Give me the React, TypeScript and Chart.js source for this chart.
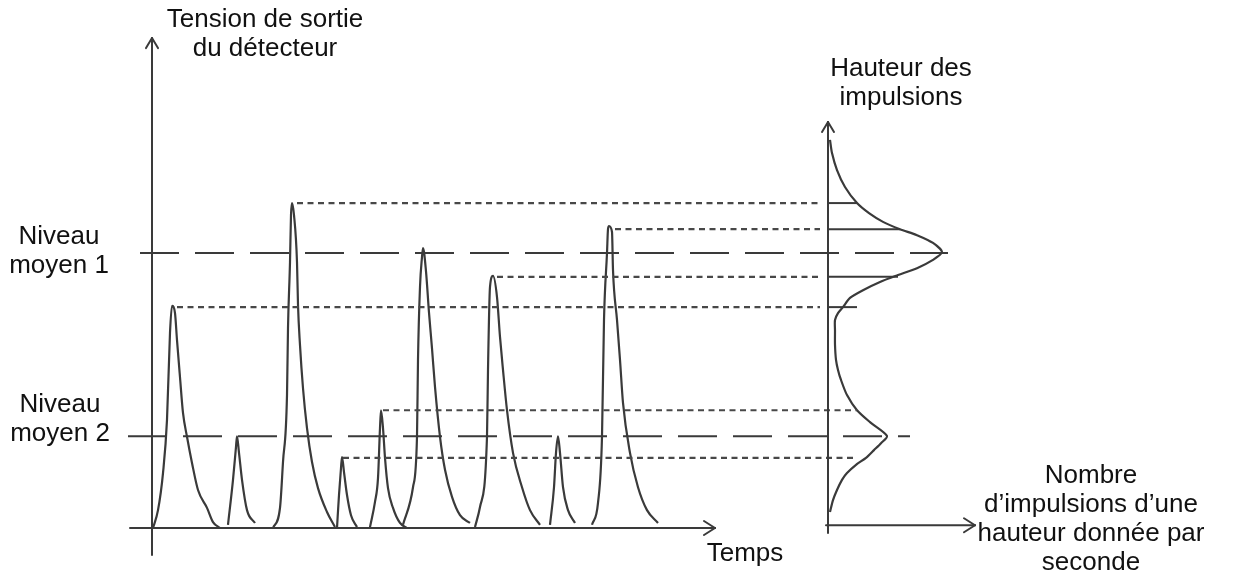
import React, { useEffect, useRef } from "react";
import { Chart, registerables } from "chart.js";
Chart.register(...registerables);

// Units: time t (arbitrary µs), detector voltage V (arbitrary mV), counts (arbitrary /s)
const pulse1T = [0.1, 0.6, 1.1, 1.5, 1.8, 2.0, 2.3, 2.5, 2.8, 3.1, 3.5, 4.0, 4.6, 5.5, 6.1, 6.8];
const pulse1V = [0, 39, 120, 236, 426, 485, 469, 410, 329, 251, 199, 142, 83, 44, 13, 0];
const pulse2T = [7.6, 8.1, 8.4, 8.5, 8.7, 9.0, 9.5, 10.3];
const pulse2V = [7, 105, 177, 200, 164, 105, 39, 11];
const pulse3T = [12.1, 12.8, 13.1, 13.5, 13.6, 13.8, 13.9, 14.0, 14.2, 14.5, 14.6, 14.8, 15.1, 15.5, 16.0, 16.6, 17.5, 18.3];
const pulse3V = [0, 44, 144, 290, 436, 580, 683, 709, 683, 580, 487, 399, 305, 218, 144, 87, 35, 2];
const pulse4T = [18.5, 18.7, 18.9, 19.0, 19.2, 19.5, 19.9, 20.5];
const pulse4V = [0, 72, 131, 155, 122, 72, 28, 2];
const pulse5T = [21.8, 22.3, 22.6, 22.8, 22.9, 23.1, 23.3, 23.6, 24.1, 24.8, 25.5];
const pulse5V = [2, 57, 109, 218, 257, 218, 153, 87, 44, 11, 0];
const pulse6T = [25.1, 26.1, 26.5, 26.6, 26.8, 27.0, 27.1, 27.4, 27.7, 28.0, 28.3, 28.8, 29.3, 30.0, 30.8, 31.8];
const pulse6V = [7, 89, 199, 367, 526, 591, 611, 560, 470, 392, 308, 199, 127, 68, 28, 11];
const pulse7T = [32.3, 32.8, 33.5, 33.6, 33.8, 34.1, 34.5, 34.8, 35.1, 35.5, 36.1, 37.0, 37.8, 38.8];
const pulse7V = [2, 46, 199, 345, 526, 550, 504, 417, 345, 257, 164, 89, 39, 7];
const pulse8T = [39.8, 40.2, 40.4, 40.6, 40.8, 41.1, 41.6, 42.3];
const pulse8V = [7, 89, 164, 200, 164, 89, 39, 11];
const pulse9T = [44.0, 44.6, 45.0, 45.2, 45.5, 45.6, 45.7, 46.0, 46.1, 46.5, 46.8, 47.1, 47.8, 48.6, 49.5, 50.6];
const pulse9V = [7, 55, 199, 454, 600, 652, 659, 646, 563, 454, 367, 273, 164, 89, 39, 11];

// Pulse-height distribution (counts vs voltage)
const histV = [847, 818, 781, 744, 709, 687, 668, 652, 639, 622, 602, 585, 567, 552, 537, 519, 502, 482, 469, 454, 430, 400, 367, 345, 323, 290, 257, 231, 201, 185, 170, 153, 138, 120, 105, 83, 61, 35];
const histCount = [2, 4, 9, 17, 29, 41, 55, 72, 89, 105, 114, 105, 89, 70, 52, 35, 22, 15, 10, 7, 7, 7, 8, 10, 13, 19, 29, 42, 59, 53, 46, 38, 28, 19, 14, 9, 5, 2];

// Mean levels (long dashes)
const meanLevels = [600, 200];
const meanStartT = [-1.2, -2.4];
const meanEndT = [79.6, 75.8];

// Peak heights carried to the distribution (short dashes)
const peakLevels = [709, 652, 548, 482, 257, 153];
const peakStartT = [14.5, 46.3, 34.5, 2.5, 23.1, 19.1];
const peakEndT = [66.8, 66.8, 67.0, 66.8, 70.5, 70.3];

// Solid marks on the distribution
const markLevels = [709, 652, 548, 482];
const markCounts = [29, 72, 70, 29];

// Axes extents
const timeAxisT = [-2.2, 56.3];
const voltAxisV = [-59, 1069];
const histCountAxis = [-2, 147];
const histCountAxisV = 6;
const histVoltAxis = [-11, 886];

const INK = "#3a3a3a";

const pulsesT = [pulse1T, pulse2T, pulse3T, pulse4T, pulse5T, pulse6T, pulse7T, pulse8T, pulse9T];
const pulsesV = [pulse1V, pulse2V, pulse3V, pulse4V, pulse5V, pulse6V, pulse7V, pulse8V, pulse9V];

const axesPlugin = {
  id: "axesArrows",
  afterDatasetsDraw(chart: any) {
    const { ctx, scales } = chart;
    const x = scales.x, y = scales.y, xh = scales.xh;
    ctx.save();
    ctx.strokeStyle = INK;
    ctx.lineWidth = 2;
    ctx.lineCap = "round";
    const seg = (x1: number, y1: number, x2: number, y2: number) => {
      ctx.beginPath();
      ctx.moveTo(x1, y1);
      ctx.lineTo(x2, y2);
      ctx.stroke();
    };
    const arrowRight = (px: number, py: number) => {
      seg(px - 11, py - 7, px, py);
      seg(px - 11, py + 7, px, py);
    };
    const arrowUp = (px: number, py: number) => {
      seg(px - 6, py + 10, px, py);
      seg(px + 6, py + 10, px, py);
    };
    const y0 = y.getPixelForValue(0);
    const tx2 = x.getPixelForValue(timeAxisT[1]);
    seg(x.getPixelForValue(timeAxisT[0]), y0, tx2, y0);
    arrowRight(tx2, y0);
    const x0 = x.getPixelForValue(0);
    const vy2 = y.getPixelForValue(voltAxisV[1]);
    seg(x0, y.getPixelForValue(voltAxisV[0]), x0, vy2);
    arrowUp(x0, vy2);
    const hy = y.getPixelForValue(histCountAxisV);
    const hx2 = xh.getPixelForValue(histCountAxis[1]);
    seg(xh.getPixelForValue(histCountAxis[0]), hy, hx2, hy);
    arrowRight(hx2, hy);
    const hx0 = xh.getPixelForValue(0);
    const hvy2 = y.getPixelForValue(histVoltAxis[1]);
    seg(hx0, y.getPixelForValue(histVoltAxis[0]), hx0, hvy2);
    arrowUp(hx0, hvy2);
    ctx.restore();
  },
};

export default function App() {
  const ref = useRef<HTMLCanvasElement | null>(null);
  useEffect(() => {
    if (!ref.current) return;
    const datasets: any[] = [];
    meanLevels.forEach((v, i) => {
      datasets.push({
        data: [{ x: meanStartT[i], y: v }, { x: meanEndT[i], y: v }],
        xAxisID: "x",
        borderColor: INK,
        borderWidth: 2,
        borderDash: [39, 16],
      });
    });
    peakLevels.forEach((v, i) => {
      datasets.push({
        data: [{ x: peakStartT[i], y: v }, { x: peakEndT[i], y: v }],
        xAxisID: "x",
        borderColor: "#484848",
        borderWidth: 2.2,
        borderDash: [6, 4.5],
      });
    });
    markLevels.forEach((v, i) => {
      datasets.push({
        data: [{ x: 0, y: v }, { x: markCounts[i], y: v }],
        xAxisID: "xh",
        borderColor: INK,
        borderWidth: 2,
      });
    });
    pulsesT.forEach((ts, k) => {
      datasets.push({
        data: ts.map((t, i) => ({ x: t, y: pulsesV[k][i] })),
        xAxisID: "x",
        borderColor: INK,
        borderWidth: 2.2,
        cubicInterpolationMode: "monotone",
      });
    });
    datasets.push({
      data: histV.map((v, i) => ({ x: histCount[i], y: v })),
      xAxisID: "xh",
      borderColor: INK,
      borderWidth: 2.2,
      tension: 0.25,
    });
    datasets.forEach((d) => {
      d.showLine = true;
      d.pointRadius = 0;
      d.fill = false;
    });
    const chart = new Chart(ref.current, {
      type: "scatter",
      data: { datasets },
      options: {
        animation: false,
        responsive: false,
        devicePixelRatio: 1,
        events: [],
        layout: { padding: 0 },
        plugins: { legend: { display: false }, tooltip: { enabled: false } },
        scales: {
          x: { type: "linear", display: false, min: -15.2, max: 109.6 },
          xh: { type: "linear", display: false, min: -828, max: 420 },
          y: { type: "linear", display: false, min: -115.6, max: 1152.1 },
        },
      },
      plugins: [axesPlugin],
    });
    return () => chart.destroy();
  }, []);

  const font: React.CSSProperties = {
    position: "absolute",
    fontFamily: '"Liberation Sans", Arial, sans-serif',
    fontSize: 26,
    lineHeight: "29px",
    color: "#111",
    textAlign: "center",
    whiteSpace: "nowrap",
    transform: "translateX(-50%)",
  };

  return (
    <div style={{ position: "fixed", left: 0, top: 0, width: 1248, height: 581, background: "#fff", overflow: "hidden" }}>
      <canvas ref={ref} width={1248} height={581} style={{ position: "absolute", left: 0, top: 0 }} />
      <div style={{ ...font, left: 265, top: 4 }}>Tension de sortie<br />du détecteur</div>
      <div style={{ ...font, left: 59, top: 221 }}>Niveau<br />moyen 1</div>
      <div style={{ ...font, left: 60, top: 389 }}>Niveau<br />moyen 2</div>
      <div style={{ ...font, left: 901, top: 53 }}>Hauteur des<br />impulsions</div>
      <div style={{ ...font, left: 745, top: 538 }}>Temps</div>
      <div style={{ ...font, left: 1091, top: 460 }}>Nombre<br />d’impulsions d’une<br />hauteur donnée par<br />seconde</div>
    </div>
  );
}
